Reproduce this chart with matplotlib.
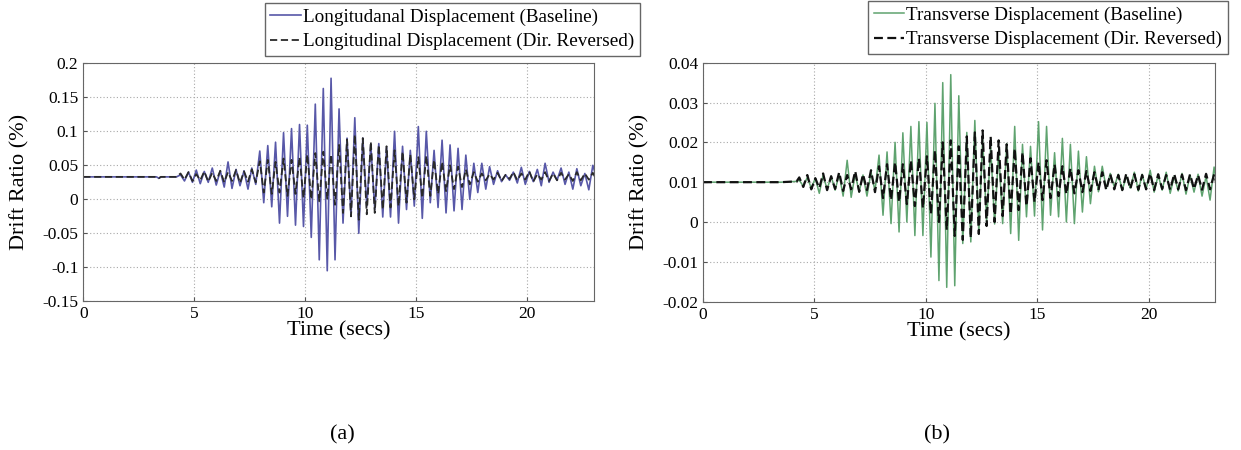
import numpy as np
import matplotlib
matplotlib.use("Agg")
import matplotlib.pyplot as plt
from matplotlib.ticker import FuncFormatter

plt.rcParams['font.family'] = ['Liberation Serif', 'DejaVu Serif']

# ---- (a) longitudinal ----
lead_t_a = [0.0, 3.3, 3.4, 3.5, 4.2]
lead_v_a = [0.033, 0.033, 0.031, 0.033, 0.033]
peak_t_a = [4.38, 4.74, 5.09, 5.45, 5.81, 6.17, 6.52, 6.88, 7.24, 7.59,
            7.95, 8.31, 8.66, 9.02, 9.38, 9.74, 10.09, 10.45, 10.81, 11.16,
            11.52, 11.88, 12.23, 12.59, 12.95, 13.31, 13.66, 14.02, 14.38, 14.73,
            15.09, 15.45, 15.80, 16.16, 16.52, 16.88, 17.23, 17.59, 17.95, 18.30,
            18.66, 19.02, 19.37, 19.73, 20.09, 20.45, 20.80, 21.16, 21.52, 21.87,
            22.23, 22.59, 22.95]
long_base_pk = [0.036, 0.040, 0.043, 0.041, 0.046, 0.042, 0.055, 0.044, 0.042, 0.046,
                0.071, 0.079, 0.084, 0.098, 0.104, 0.110, 0.109, 0.140, 0.163, 0.178,
                0.133, 0.090, 0.120, 0.090, 0.080, 0.082, 0.077, 0.100, 0.078, 0.072,
                0.107, 0.100, 0.072, 0.087, 0.080, 0.075, 0.065, 0.053, 0.053, 0.048,
                0.042, 0.036, 0.040, 0.047, 0.041, 0.044, 0.053, 0.040, 0.046, 0.040,
                0.045, 0.038, 0.050]
long_base_tr = [0.027, 0.025, 0.023, 0.025, 0.021, 0.018, 0.016, 0.020, 0.015, 0.022,
                -0.005, -0.011, -0.035, -0.025, -0.038, -0.040, -0.056, -0.089, -0.105, -0.089,
                -0.035, -0.025, -0.050, -0.010, -0.015, -0.026, -0.026, -0.035, -0.015, -0.010,
                -0.028, -0.005, -0.012, -0.020, -0.017, -0.015, 0.000, 0.010, 0.015, 0.022,
                0.026, 0.028, 0.024, 0.022, 0.026, 0.020, 0.025, 0.028, 0.022, 0.015,
                0.020, 0.014, 0.030]
long_rev_pk = [0.038, 0.040, 0.037, 0.041, 0.039, 0.042, 0.040, 0.043, 0.041, 0.044,
               0.056, 0.058, 0.055, 0.060, 0.058, 0.062, 0.066, 0.068, 0.070, 0.066,
               0.080, 0.088, 0.095, 0.090, 0.085, 0.080, 0.078, 0.072, 0.070, 0.066,
               0.062, 0.064, 0.058, 0.055, 0.050, 0.048, 0.044, 0.040, 0.038, 0.037,
               0.039, 0.036, 0.040, 0.038, 0.041, 0.037, 0.040, 0.038, 0.039, 0.037,
               0.040, 0.038, 0.039]
long_rev_tr = [0.029, 0.027, 0.028, 0.026, 0.027, 0.025, 0.027, 0.024, 0.026, 0.025,
               0.010, 0.008, 0.010, 0.005, 0.008, 0.002, 0.000, -0.003, 0.000, -0.008,
               -0.020, -0.025, -0.030, -0.022, -0.020, -0.015, -0.012, -0.010, -0.005, 0.000,
               0.002, 0.005, 0.008, 0.012, 0.015, 0.018, 0.022, 0.026, 0.028, 0.029,
               0.027, 0.030, 0.028, 0.029, 0.026, 0.029, 0.027, 0.028, 0.029, 0.027,
               0.028, 0.029, 0.028]

# ---- (b) transverse ----
lead_t_b = [0.0, 3.5, 4.2]
lead_v_b = [0.010, 0.010, 0.0102]
peak_t_b = [4.32, 4.68, 5.04, 5.39, 5.75, 6.11, 6.47, 6.83, 7.18, 7.54,
            7.90, 8.26, 8.62, 8.97, 9.33, 9.69, 10.05, 10.41, 10.76, 11.12,
            11.48, 11.84, 12.20, 12.55, 12.91, 13.27, 13.63, 13.99, 14.34, 14.70,
            15.06, 15.42, 15.78, 16.13, 16.49, 16.85, 17.21, 17.57, 17.92, 18.28,
            18.64, 19.00, 19.36, 19.71, 20.07, 20.43, 20.79, 21.15, 21.50, 21.86,
            22.22, 22.58, 22.94]
trans_base_pk = [0.0105, 0.0112, 0.0110, 0.0118, 0.0115, 0.0120, 0.0155, 0.0120, 0.0118, 0.0125,
                 0.0168, 0.0176, 0.0200, 0.0224, 0.0240, 0.0252, 0.0250, 0.0298, 0.0350, 0.0370,
                 0.0317, 0.0225, 0.0255, 0.0210, 0.0190, 0.0180, 0.0197, 0.0240, 0.0195, 0.0190,
                 0.0252, 0.0240, 0.0174, 0.0210, 0.0195, 0.0178, 0.0164, 0.0140, 0.0140, 0.0122,
                 0.0120, 0.0115, 0.0125, 0.0120, 0.0130, 0.0118, 0.0125, 0.0115, 0.0122, 0.0118,
                 0.0120, 0.0115, 0.0138]
trans_base_tr = [0.0090, 0.0085, 0.0072, 0.0082, 0.0080, 0.0065, 0.0062, 0.0075, 0.0065, 0.0078,
                 0.0017, -0.0004, -0.0025, 0.0000, -0.0034, -0.0034, -0.0088, -0.0147, -0.0164, -0.0160,
                 -0.0054, -0.0050, -0.0029, 0.0000, -0.0005, -0.0004, -0.0029, -0.0046, 0.0013, 0.0015,
                 -0.0020, 0.0017, 0.0013, 0.0000, -0.0004, 0.0025, 0.0046, 0.0076, 0.0084, 0.0088,
                 0.0080, 0.0085, 0.0078, 0.0082, 0.0075, 0.0080, 0.0072, 0.0078, 0.0070, 0.0075,
                 0.0065, 0.0055, 0.0070]
trans_rev_pk = [0.0112, 0.0118, 0.0110, 0.0122, 0.0115, 0.0125, 0.0118, 0.0128, 0.0120, 0.0130,
                0.0140, 0.0145, 0.0150, 0.0145, 0.0155, 0.0160, 0.0165, 0.0180, 0.0200, 0.0205,
                0.0190, 0.0215, 0.0225, 0.0230, 0.0215, 0.0205, 0.0195, 0.0185, 0.0175, 0.0160,
                0.0150, 0.0155, 0.0145, 0.0140, 0.0135, 0.0130, 0.0128, 0.0125, 0.0125, 0.0120,
                0.0118, 0.0122, 0.0120, 0.0118, 0.0122, 0.0120, 0.0118, 0.0121, 0.0119, 0.0120,
                0.0118, 0.0121, 0.0120]
trans_rev_tr = [0.0088, 0.0082, 0.0085, 0.0080, 0.0083, 0.0078, 0.0082, 0.0076, 0.0080, 0.0075,
                0.0060, 0.0055, 0.0050, 0.0045, 0.0040, 0.0035, 0.0020, 0.0000, -0.0020, -0.0035,
                -0.0045, -0.0040, -0.0030, -0.0010, 0.0000, 0.0015, 0.0020, 0.0030, 0.0040, 0.0050,
                0.0055, 0.0060, 0.0065, 0.0070, 0.0072, 0.0075, 0.0078, 0.0080, 0.0080, 0.0082,
                0.0080, 0.0083, 0.0081, 0.0082, 0.0080, 0.0083, 0.0081, 0.0082, 0.0080, 0.0083,
                0.0081, 0.0082, 0.0080]


def trace(lead_t, lead_v, pk_t, pk, tr):
    # peaks and troughs alternate, trough half a cycle after each peak
    pk_t = np.array(pk_t)
    half = np.diff(pk_t).mean() / 2
    t = np.column_stack([pk_t, pk_t + half]).ravel()
    v = np.column_stack([pk, tr]).ravel()
    return np.concatenate([lead_t, t]), np.concatenate([lead_v, v])


fmt = FuncFormatter(lambda v, p: ('%g' % round(v, 4)))

fig = plt.figure(figsize=(12.41, 4.5), dpi=100)
ax1 = fig.add_axes([0.0671, 0.3304, 0.4115, 0.5289])
ax2 = fig.add_axes([0.5665, 0.3296, 0.4129, 0.5311])

t, v = trace(lead_t_a, lead_v_a, peak_t_a, long_base_pk, long_base_tr)
l1, = ax1.plot(t, v, color='#5858a8', lw=1.2)
t, v = trace(lead_t_a, lead_v_a, peak_t_a, long_rev_pk, long_rev_tr)
l2, = ax1.plot(t, v, color='#2a2a2a', lw=1.3, dashes=(4, 2))
ax1.set_ylim(-0.15, 0.2)
ax1.set_yticks(np.arange(-0.15, 0.21, 0.05))

t, v = trace(lead_t_b, lead_v_b, peak_t_b, trans_base_pk, trans_base_tr)
l3, = ax2.plot(t, v, color='#5fa36f', lw=1.1)
t, v = trace(lead_t_b, lead_v_b, peak_t_b, trans_rev_pk, trans_rev_tr)
l4, = ax2.plot(t, v, color='#111111', lw=1.6, dashes=(4, 2))
ax2.set_ylim(-0.02, 0.04)
ax2.set_yticks(np.arange(-0.02, 0.041, 0.01))

for ax in (ax1, ax2):
    ax.set_xlim(0, 23)
    ax.set_xticks([0, 5, 10, 15, 20])
    ax.yaxis.set_major_formatter(fmt)
    ax.grid(True, linestyle=(0, (1, 2)), color='#a8a8a8', lw=0.8)
    ax.tick_params(direction='in', length=3, labelsize=12.5, color='#555555')
    for s in ax.spines.values():
        s.set_color('#666666')
        s.set_linewidth(0.8)
    ax.set_xlabel('Time (secs)', fontsize=16)
    ax.set_ylabel('Drift Ratio (%)', fontsize=16)
    ax.xaxis.set_label_coords(0.5, -0.085)
    ax.yaxis.set_label_coords(-0.105, 0.5)

leg_kw = dict(loc='upper right', fontsize=13.8, fancybox=False, framealpha=1,
              edgecolor='#666666', handlelength=1.6, handletextpad=0.1,
              borderpad=0.3, labelspacing=0.35, borderaxespad=0)
lg1 = fig.legend([l1, l2], ['Longitudanal Displacement (Baseline)',
                            'Longitudinal Displacement (Dir. Reversed)'],
                 bbox_to_anchor=(640 / 1241, 1 - 3 / 450), **leg_kw)
lg2 = fig.legend([l3, l4], ['Transverse Displacement (Baseline)',
                            'Transverse Displacement (Dir. Reversed)'],
                 bbox_to_anchor=(1228 / 1241, 1 - 1 / 450), **leg_kw)

fig.text(342 / 1241, 15 / 450, '(a)', ha='center', va='center', fontsize=16)
fig.text(937 / 1241, 15 / 450, '(b)', ha='center', va='center', fontsize=16)

fig.savefig('out.png', dpi=100)
